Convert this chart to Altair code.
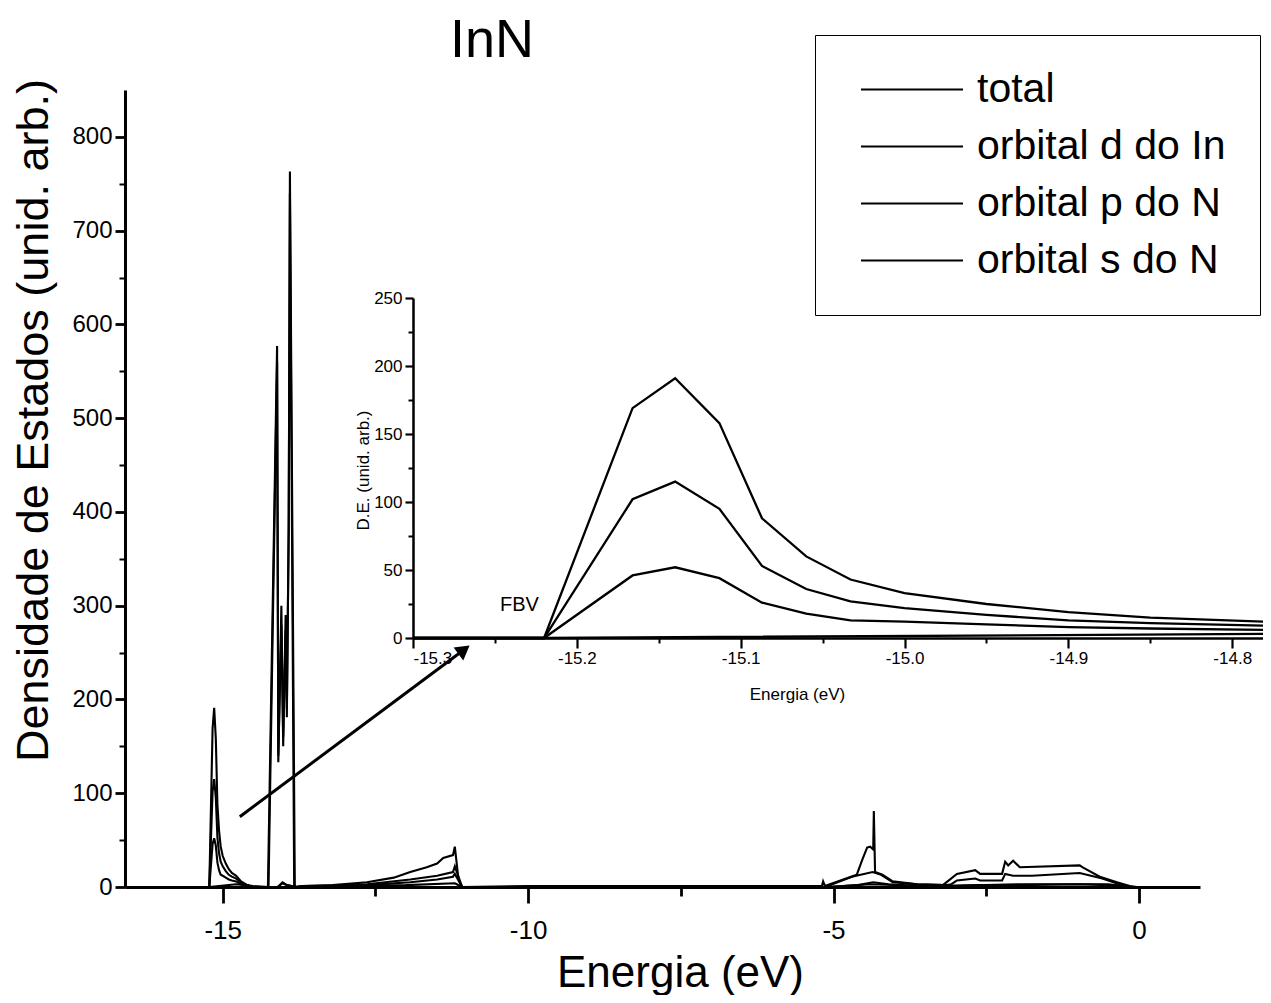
import altair as alt
import pandas as pd

FONT = "Liberation Sans"

series_names = ["total", "orbital d do In", "orbital p do N", "orbital s do N"]

# ---- total DOS ----
total_e = [-15.30, -15.22, -15.166, -15.14, -15.113, -15.087, -15.06, -15.033, -15.0, -14.95, -14.9, -14.85, -14.78, -14.7, -14.6, -14.5,
           -14.26, -14.11, -14.09, -14.04, -14.01, -13.97, -13.95, -13.92, -13.90, -13.82,
           -13.7, -13.2, -12.64, -12.2, -11.93, -11.66, -11.49, -11.39, -11.23, -11.20, -11.14, -11.08,
           -10.0, -8.0, -6.0, -5.3, -5.19, -5.17, -5.14, -5.06, -4.62, -4.53, -4.45, -4.40, -4.35, -4.34, -4.32, -4.20, -4.03, -3.63, -3.21,
           -2.98, -2.68, -2.60, -2.24, -2.19, -2.14, -2.06, -1.95, -0.97, -0.92, -0.64, -0.36, -0.15, -0.03]
total_dos = [0, 0, 169, 191, 158, 88, 60, 43, 33, 25, 19, 15, 12, 6, 2, 0,
             0, 577, 133, 300, 150, 290, 181, 385, 763, 0,
             1, 2, 5, 10, 16, 21, 25, 31, 34, 43, 8, 0,
             1, 1, 1, 1, 1, 6, 1, 3, 13, 29, 42, 43, 40, 81, 16, 13, 6, 3, 2,
             14, 18, 14, 14, 27, 23, 28, 21, 23, 21, 11, 5, 1, 0]

# ---- In d orbital ----
dIn_e = [-15.30, -15.22, -14.78, -14.5, -14.25, -14.11, -14.09, -14.04, -14.01, -13.97, -13.95, -13.92, -13.90, -13.83,
         -13.7, -12.0, -11.2, -11.08, -5.1, -4.4, -3.5, -3.2, -2.0, -0.5, -0.1]
dIn_dos = [0, 0, 3, 1, 0, 560, 140, 280, 160, 274, 190, 380, 740, 0,
           1, 2, 4, 0, 0, 3, 1, 1, 3, 3, 0]

# ---- N p orbital ----
pN_e = [-15.30, -15.22, -15.166, -15.14, -15.113, -15.087, -15.06, -15.033, -15.0, -14.95, -14.9, -14.85, -14.78, -14.7, -14.6, -14.5,
        -14.1, -14.02, -13.95, -13.8,
        -13.7, -12.64, -11.93, -11.49, -11.23, -11.20, -11.08,
        -5.1, -5.02, -4.70, -4.36, -4.22, -4.03, -3.63, -3.14, -3.07, -2.98, -2.68, -2.60, -2.24, -2.19, -2.06, -1.75, -0.97, -0.60, -0.27, -0.12]
pN_dos = [0, 0, 46, 52, 44, 26, 18, 13, 12, 10, 8, 7, 6, 3, 1, 0,
          0, 4, 2, 0,
          0, 3, 8, 12, 16, 22, 0,
          0, 3, 11, 16, 13, 5, 3, 2, 3, 7, 9, 7, 7, 14, 12, 12, 15, 9, 2, 0]

# ---- N s orbital ----
sN_e = [-15.30, -15.22, -15.166, -15.14, -15.113, -15.087, -15.06, -15.033, -15.0, -14.95, -14.9, -14.85, -14.78, -14.7, -14.6, -14.5,
        -14.1, -14.02, -13.95, -13.8,
        -13.7, -12.64, -11.93, -11.49, -11.23, -11.20, -11.08,
        -5.1, -4.6, -4.35, -4.1, -3.6, -3.2, -2.6, -2.0, -1.0, -0.5, -0.1]
sN_dos = [0, 0, 102, 115, 95, 53, 36, 27, 22, 17, 13, 11, 9, 5, 2, 0,
          0, 5, 2, 0,
          0, 2, 5, 8, 11, 14, 0,
          0, 2, 5, 3, 1, 1, 2, 2, 3, 2, 0]

# annotation arrow (data coordinates of the main plot)
arrow_e = [-14.72, -11.05]
arrow_dos = [75, 253]
fbv_e = [-15.235]
fbv_dos = [24]

main_xticks = [-15, -10, -5, 0]
main_xminor = [-12.5, -7.5, -2.5]
main_yticks = [0, 100, 200, 300, 400, 500, 600, 700, 800]
main_yminor = [50, 150, 250, 350, 450, 550, 650, 750]
inset_xticks = [-15.3, -15.2, -15.1, -15.0, -14.9, -14.8]
inset_xminor = [-15.25, -15.15, -15.05, -14.95, -14.85]
inset_yticks = [0, 50, 100, 150, 200, 250]
inset_yminor = [25, 75, 125, 175, 225]

rows = []
for name, es, ds in [(series_names[0], total_e, total_dos), (series_names[1], dIn_e, dIn_dos),
                     (series_names[2], pN_e, pN_dos), (series_names[3], sN_e, sN_dos)]:
    for e, d in zip(es, ds):
        rows.append({"e": e, "dos": d, "series": name})
df = pd.DataFrame(rows)
arrow_df = pd.DataFrame({"e": [arrow_e[0]], "dos": [arrow_dos[0]], "e2": [arrow_e[1]], "dos2": [arrow_dos[1]]})
head_df = pd.DataFrame({"e": [arrow_e[1]], "dos": [arrow_dos[1]]})
fbv_df = pd.DataFrame({"e": fbv_e, "dos": fbv_dos, "t": ["FBV"]})

W, H = 1075, 797

def main_x():
    return alt.Scale(domain=[-16.6, 1.0], nice=False, zero=False)

def main_y():
    return alt.Scale(domain=[0, 850], nice=False, zero=True)

def ins_x():
    return alt.Scale(domain=[-15.3, -14.78], range=[288, 1140], nice=False, zero=False)

def ins_y():
    return alt.Scale(domain=[0, 250], range=[548, 208], nice=False, zero=True)

color = alt.Color(
    "series:N",
    scale=alt.Scale(domain=series_names, range=["black"] * 4),
    legend=alt.Legend(
        title=None, orient="none", legendX=690, legendY=-55,
        symbolType="M-0.5,0H5.5", symbolSize=1156, symbolStrokeWidth=2.2,
        labelFontSize=41, labelFont=FONT, labelColor="black", labelOffset=87,
        labelLimit=500, padding=34, strokeColor="black", rowPadding=15,
    ),
)

main = alt.Chart(df).mark_line(strokeWidth=2.1).encode(
    x=alt.X("e:Q", scale=main_x(), axis=alt.Axis(
        values=main_xticks, orient="bottom", title="Energia (eV)", labelExpr="toString(datum.value)",
        tickSize=16, tickWidth=2.8, domainWidth=3, domainColor="black", tickColor="black",
        labelFontSize=26, labelFont=FONT, labelColor="black", labelPadding=14,
        titleFont=FONT, titleFontSize=44, titleFontWeight="normal", titleColor="black",
        titleX=555, titleY=99, titleBaseline="alphabetic", grid=False)),
    y=alt.Y("dos:Q", scale=main_y(), axis=alt.Axis(
        values=main_yticks, orient="left", title="Densidade de Estados (unid. arb.)",
        tickSize=10, tickWidth=2.8, domainWidth=3, domainColor="black", tickColor="black",
        labelFontSize=24, labelFont=FONT, labelColor="black", labelPadding=3,
        titleFont=FONT, titleFontSize=45, titleFontWeight="normal", titleColor="black",
        titleAngle=270, titleX=-78, titleY=330, titleBaseline="alphabetic", grid=False)),
    color=color,
)

main_minor = alt.Chart(df).mark_line(opacity=0).encode(
    x=alt.X("e:Q", scale=main_x(), axis=alt.Axis(
        values=main_xminor, orient="bottom", title=None, labels=False, domain=False,
        tickSize=9, tickWidth=2.8, tickColor="black", grid=False)),
    y=alt.Y("dos:Q", scale=main_y(), axis=alt.Axis(
        values=main_yminor, orient="left", title=None, labels=False, domain=False,
        tickSize=6, tickWidth=2, tickColor="black", grid=False)),
    detail="series:N",
)

inset_filter = "datum.e >= -15.3 && datum.e <= -14.78"

inset = alt.Chart(df).transform_filter(inset_filter).mark_line(strokeWidth=2.3, color="black").encode(
    x=alt.X("e:Q", scale=ins_x(), axis=alt.Axis(
        values=inset_xticks, orient="bottom", offset=-249, title="Energia (eV)",
        labelExpr="replace(format(datum.value, '.1f'), '\u2212', '-')",
        tickSize=10, tickWidth=2.2, domainWidth=2.5, domainColor="black", tickColor="black",
        labelFontSize=17, labelFont=FONT, labelColor="black", labelPadding=2,
        titleFont=FONT, titleFontSize=17, titleFontWeight="normal", titleColor="black",
        titleX=672, titleY=61, titleBaseline="alphabetic", grid=False)),
    y=alt.Y("dos:Q", scale=ins_y(), axis=alt.Axis(
        values=inset_yticks, orient="left", offset=-288, title="D.E. (unid. arb.)",
        tickSize=8, tickWidth=2.2, domainWidth=2.5, domainColor="black", tickColor="black",
        labelFontSize=17, labelFont=FONT, labelColor="black", labelPadding=3,
        titleFont=FONT, titleFontSize=17, titleFontWeight="normal", titleColor="black",
        titleAngle=270, titleX=-45, titleY=380, titleBaseline="alphabetic", grid=False)),
    detail="series:N",
)

inset_minor = alt.Chart(df).transform_filter(inset_filter).mark_line(opacity=0).encode(
    x=alt.X("e:Q", scale=ins_x(), axis=alt.Axis(
        values=inset_xminor, orient="bottom", offset=-249, title=None, labels=False, domain=False,
        tickSize=5, tickWidth=2, tickColor="black", grid=False)),
    y=alt.Y("dos:Q", scale=ins_y(), axis=alt.Axis(
        values=inset_yminor, orient="left", offset=-288, title=None, labels=False, domain=False,
        tickSize=5, tickWidth=2, tickColor="black", grid=False)),
    detail="series:N",
)

arrow_line = alt.Chart(arrow_df).mark_rule(color="black", strokeWidth=3).encode(
    x=alt.X("e:Q", scale=main_x(), axis=None),
    x2="e2:Q",
    y=alt.Y("dos:Q", scale=main_y(), axis=None),
    y2="dos2:Q",
)

arrow_head = alt.Chart(head_df).mark_point(shape="triangle-up", filled=True, size=260, angle=53,
                                           color="black", opacity=1).encode(
    x=alt.X("e:Q", scale=main_x(), axis=None),
    y=alt.Y("dos:Q", scale=main_y(), axis=None),
)

fbv = alt.Chart(fbv_df).mark_text(font=FONT, fontSize=20, color="black").encode(
    x=alt.X("e:Q", scale=ins_x(), axis=None),
    y=alt.Y("dos:Q", scale=ins_y(), axis=None),
    text="t:N",
)

chart = alt.layer(main, main_minor, inset, inset_minor, arrow_line, arrow_head, fbv).resolve_scale(
    x="independent", y="independent"
).properties(
    width=W, height=H,
    title=alt.TitleParams("InN", fontSize=54, font=FONT, fontWeight="normal", color="black",
                          anchor="start", frame="group", dx=325, offset=-33),
    autosize=alt.AutoSizeParams(type="none"),
    padding={"left": 117, "top": 82, "right": 63, "bottom": 108},
    background="white",
).configure_view(strokeWidth=0)

chart.save("out.html", embed_options={"renderer": "svg", "actions": False})
